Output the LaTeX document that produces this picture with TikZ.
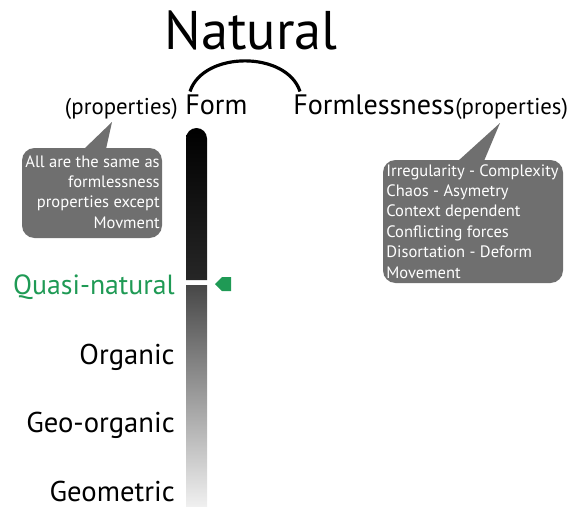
\documentclass[tikz,border=0pt]{standalone}
\usepackage{fontspec}
\setmainfont{PT Sans}
\usetikzlibrary{calc}
\definecolor{quasigreen}{HTML}{1f9a55}
\definecolor{bubble}{HTML}{6f6f6f}

\begin{document}
\begin{tikzpicture}[x=0.02cm,y=-0.02cm]
    \useasboundingbox (0,0) rectangle (576,507);
    \def\barleft{186}
    \def\barright{207}
    \tikzset{label/.style={anchor=base east,inner sep=0pt,font=\fontsize{16.3}{18}\selectfont},
             head/.style={anchor=base,inner sep=0pt,font=\fontsize{16}{18}\selectfont},
             props/.style={inner sep=0pt,font=\fontsize{13}{15}\selectfont},
             bubbletext/.style={text=white,font=\fontsize{9.4}{11.6}\selectfont,inner sep=0pt}}

    \node[anchor=base,font=\fontsize{31}{36}\selectfont] (natural) at (251,50) {Natural};

    \node[head,anchor=base west] (form) at (185,114) {Form};
    \node[props,anchor=base east] (propleft) at (178,114) {(properties)};
    \node[head,anchor=base west] (formless) at (293,114) {Formlessness};
    \node[props,anchor=base west] (propright) at (455,114) {(properties)};

    \draw[line width=1.8pt] ([xshift=0.1cm,yshift=0.05cm]form.north west) to[out=72,in=108] ([xshift=0.14cm,yshift=0.05cm]formless.north west); %natural arc

    % upper bar
    \shade[top color=black,bottom color=black!85] (\barleft,280) -- (\barleft,138.5) arc (180:360:10.5) -- (\barright,280) -- cycle;
    % lower bar
    \shade[top color=black!72,bottom color=black!6] (\barleft,285) rectangle (\barright,506);

    \fill[quasigreen] (215,284) -- (222,277) -- (231,277) -- (231,291) -- (222,291) -- cycle; % arrow

    \node[label,text=quasigreen,font=\fontsize{15.8}{18}\selectfont] (quasi) at (175,295) {Quasi-natural};
    \node[label] (organic) at (175,364) {Organic};
    \node[label] (geoorganic) at (175,433) {Geo-organic};
    \node[label] (geometric) at (175,501) {Geometric};

    % left bubble
    \fill[bubble,rounded corners=0.25cm] (22,148) rectangle (162,238);
    \fill[bubble] (84,149) -- (112,122) -- (106,149) -- cycle;
    \node[bubbletext,align=right,anchor=north east] (sameas) at (160,155)
        {All are the same as\\formlessness\\properties except\\Movment};

    % right bubble
    \fill[bubble,rounded corners=0.25cm] (383,160) rectangle (563,283);
    \fill[bubble] (458,161) -- (500,123) -- (484,161) -- cycle;
    \node[bubbletext,align=left,anchor=north west] (irregular) at (386,164)
        {Irregularity - Complexity\\Chaos - Asymetry\\Context dependent\\Conflicting forces\\Disortation - Deform\\Movement};
\end{tikzpicture}
\end{document}
